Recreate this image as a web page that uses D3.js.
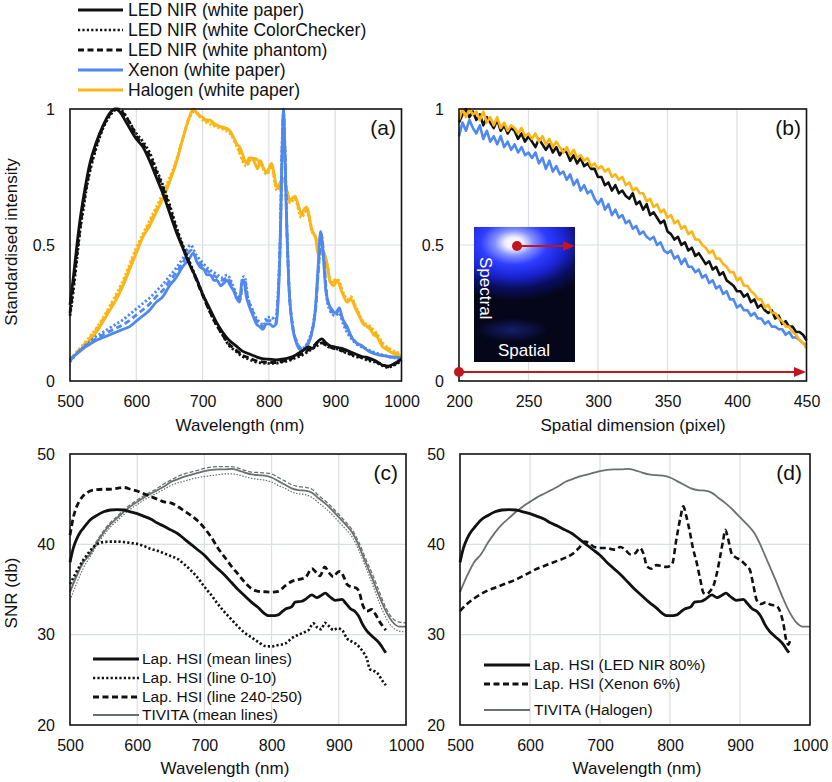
<!DOCTYPE html>
<html><head><meta charset="utf-8">
<script src="https://cdn.jsdelivr.net/npm/d3@7"></script>
<style>body{margin:0;background:#fff}svg{display:block}</style>
</head><body><svg id="chart" width="832" height="782"></svg>
<script>
// ---------------- DATA ----------------
// Panel (a): standardised intensity vs wavelength [nm, value]
const ledPaper = [[500,0.28],[505,0.38],[510,0.49],[515,0.59],[520,0.67],[525,0.74],[530,0.8],[540,0.88],[550,0.94],[560,0.985],[568,1.0],[575,0.99],[585,0.95],[600,0.89],[610,0.86],[620,0.81],[630,0.75],[640,0.69],[650,0.62],[660,0.55],[670,0.49],[680,0.43],[690,0.38],[700,0.32],[710,0.27],[720,0.22],[730,0.18],[740,0.15],[750,0.13],[760,0.11],[770,0.1],[780,0.09],[790,0.082],[800,0.08],[810,0.078],[820,0.08],[830,0.085],[840,0.095],[850,0.11],[860,0.125],[866,0.12],[872,0.14],[880,0.155],[886,0.14],[892,0.13],[900,0.125],[910,0.12],[920,0.11],[930,0.1],[940,0.09],[950,0.085],[960,0.075],[970,0.06],[980,0.055],[990,0.065],[1000,0.08]];
const ledChecker = [[500,0.24],[505,0.33],[510,0.44],[515,0.55],[520,0.63],[525,0.71],[530,0.77],[540,0.86],[550,0.93],[560,0.975],[572,1.0],[580,0.99],[590,0.95],[600,0.91],[610,0.88],[620,0.84],[630,0.78],[640,0.72],[650,0.65],[660,0.57],[670,0.5],[680,0.44],[690,0.38],[700,0.32],[710,0.26],[720,0.21],[730,0.17],[740,0.13],[750,0.11],[760,0.09],[770,0.08],[780,0.07],[790,0.066],[800,0.065],[810,0.065],[820,0.07],[830,0.075],[840,0.085],[850,0.095],[860,0.11],[870,0.125],[880,0.14],[890,0.125],[900,0.12],[910,0.11],[920,0.1],[930,0.09],[940,0.085],[950,0.075],[960,0.07],[970,0.058],[980,0.05],[990,0.06],[1000,0.075]];
const ledPhantom = [[500,0.25],[505,0.35],[510,0.46],[515,0.56],[520,0.65],[525,0.72],[530,0.78],[540,0.87],[550,0.935],[560,0.98],[570,1.0],[580,0.985],[590,0.95],[600,0.9],[610,0.87],[620,0.83],[630,0.77],[640,0.71],[650,0.64],[660,0.56],[670,0.495],[680,0.435],[690,0.375],[700,0.315],[710,0.26],[720,0.21],[730,0.17],[740,0.135],[750,0.115],[760,0.095],[770,0.085],[780,0.075],[790,0.07],[800,0.068],[810,0.068],[820,0.072],[830,0.078],[840,0.09],[850,0.1],[860,0.115],[868,0.13],[876,0.145],[884,0.135],[892,0.125],[900,0.118],[910,0.112],[920,0.102],[930,0.094],[940,0.086],[950,0.08],[960,0.072],[970,0.062],[980,0.052],[990,0.062],[1000,0.078]];
const xenonPaper = [[500,0.08],[510,0.1],[520,0.12],[530,0.135],[540,0.15],[550,0.16],[560,0.17],[570,0.18],[580,0.19],[590,0.2],[600,0.22],[610,0.24],[620,0.26],[630,0.29],[640,0.31],[650,0.35],[660,0.38],[670,0.42],[680,0.45],[686,0.47],[691,0.44],[696,0.42],[702,0.41],[707,0.39],[712,0.39],[717,0.37],[722,0.37],[727,0.35],[732,0.36],[737,0.37],[742,0.35],[747,0.33],[752,0.3],[756,0.29],[759,0.36],[762,0.37],[766,0.31],[771,0.27],[776,0.24],[781,0.21],[786,0.2],[791,0.19],[796,0.21],[801,0.21],[806,0.2],[811,0.21],[814,0.3],[817,0.5],[820,0.85],[822,1.0],[824,0.86],[827,0.56],[830,0.36],[835,0.21],[840,0.15],[845,0.12],[850,0.11],[855,0.12],[860,0.14],[865,0.18],[870,0.26],[874,0.41],[878,0.55],[882,0.46],[886,0.33],[891,0.28],[896,0.26],[901,0.25],[906,0.27],[911,0.23],[918,0.2],[925,0.16],[932,0.14],[940,0.13],[950,0.11],[960,0.1],[970,0.095],[980,0.09],[990,0.088],[1000,0.085]];
const xenonChecker = [[500,0.07],[510,0.1],[520,0.125],[530,0.145],[540,0.165],[550,0.18],[560,0.195],[570,0.21],[580,0.225],[590,0.245],[600,0.265],[610,0.285],[620,0.305],[630,0.33],[640,0.355],[650,0.385],[660,0.415],[670,0.45],[682,0.5],[690,0.465],[700,0.435],[710,0.41],[720,0.395],[730,0.38],[737,0.39],[745,0.355],[752,0.315],[757,0.31],[760,0.38],[763,0.385],[768,0.31],[774,0.27],[780,0.235],[787,0.215],[792,0.205],[797,0.235],[803,0.235],[810,0.225],[814,0.33],[817,0.53],[820,0.88],[822,0.99],[824,0.87],[827,0.58],[830,0.37],[836,0.2],[842,0.14],[850,0.12],[860,0.15],[866,0.2],[871,0.29],[875,0.43],[879,0.53],[883,0.44],[887,0.31],[892,0.26],[900,0.24],[906,0.25],[912,0.21],[920,0.17],[930,0.14],[945,0.12],[960,0.105],[980,0.09],[1000,0.08]];
const xenonPhantom = [[500,0.075],[510,0.1],[520,0.122],[530,0.14],[540,0.157],[550,0.17],[560,0.183],[570,0.195],[580,0.207],[590,0.223],[600,0.243],[610,0.262],[620,0.283],[630,0.31],[640,0.333],[650,0.367],[660,0.398],[670,0.435],[683,0.48],[690,0.452],[700,0.422],[710,0.4],[720,0.383],[730,0.37],[737,0.38],[745,0.345],[752,0.31],[757,0.3],[760,0.37],[763,0.375],[768,0.305],[774,0.265],[780,0.228],[787,0.208],[792,0.198],[797,0.222],[803,0.222],[810,0.215],[814,0.32],[817,0.51],[820,0.86],[822,0.99],[824,0.86],[827,0.57],[830,0.36],[836,0.2],[842,0.145],[850,0.118],[860,0.145],[866,0.19],[871,0.28],[875,0.42],[879,0.54],[883,0.45],[887,0.32],[892,0.27],[900,0.245],[906,0.26],[912,0.22],[920,0.18],[930,0.145],[945,0.12],[960,0.1],[980,0.09],[1000,0.082]];
const halogenPaper = [[500,0.08],[510,0.1],[520,0.12],[530,0.15],[540,0.18],[550,0.22],[560,0.26],[570,0.3],[580,0.35],[590,0.41],[600,0.47],[610,0.53],[620,0.57],[630,0.62],[640,0.67],[650,0.73],[660,0.8],[670,0.89],[680,0.97],[686,1.0],[690,0.99],[695,0.975],[700,0.97],[705,0.96],[710,0.96],[716,0.95],[722,0.94],[728,0.935],[735,0.93],[741,0.92],[748,0.89],[752,0.87],[756,0.86],[761,0.83],[766,0.8],[770,0.82],[774,0.82],[779,0.8],[783,0.78],[787,0.81],[792,0.78],[797,0.77],[804,0.8],[808,0.76],[812,0.71],[817,0.73],[822,0.745],[827,0.7],[832,0.665],[839,0.68],[844,0.65],[849,0.615],[853,0.63],[857,0.64],[861,0.6],[865,0.555],[870,0.53],[875,0.46],[880,0.48],[885,0.46],[889,0.41],[893,0.36],[898,0.35],[903,0.37],[908,0.34],[913,0.31],[918,0.29],[924,0.3],[930,0.27],[936,0.24],[942,0.21],[948,0.2],[953,0.19],[958,0.17],[964,0.16],[970,0.13],[978,0.115],[988,0.1],[1000,0.09]];
const halogenChecker = [[500,0.08],[520,0.135],[540,0.195],[560,0.275],[580,0.37],[600,0.49],[620,0.59],[640,0.69],[660,0.81],[670,0.89],[680,0.965],[687,0.99],[700,0.96],[720,0.935],[741,0.91],[752,0.86],[766,0.79],[774,0.815],[787,0.8],[797,0.76],[804,0.79],[812,0.7],[822,0.735],[832,0.655],[839,0.67],[849,0.6],[857,0.63],[865,0.55],[872,0.52],[876,0.46],[880,0.475],[888,0.43],[893,0.365],[903,0.375],[913,0.32],[918,0.3],[924,0.31],[930,0.28],[942,0.22],[953,0.2],[964,0.17],[970,0.145],[985,0.115],[1000,0.1]];
const halogenPhantom = [[500,0.08],[520,0.13],[540,0.19],[560,0.27],[580,0.36],[600,0.48],[620,0.58],[640,0.68],[660,0.805],[670,0.89],[680,0.97],[686,0.995],[700,0.965],[720,0.94],[741,0.915],[752,0.865],[766,0.795],[774,0.82],[787,0.805],[797,0.765],[804,0.795],[812,0.705],[822,0.74],[832,0.66],[839,0.675],[849,0.61],[857,0.635],[865,0.55],[872,0.52],[876,0.455],[880,0.478],[888,0.425],[893,0.36],[903,0.37],[913,0.315],[918,0.295],[924,0.305],[930,0.275],[942,0.215],[953,0.195],[964,0.165],[970,0.14],[985,0.112],[1000,0.095]];

// Panel (b): spatial profiles, pixel 200..450 every 2.5 px
const spatialPx = d3.range(0, 101).map(i => 200 + i * 2.5);
const spatialLed = [0.95,0.98,1.0,0.97,0.99,0.96,0.98,0.94,0.97,0.95,0.93,0.96,0.92,0.94,0.91,0.93,0.92,0.89,0.91,0.88,0.9,
  0.88,0.86,0.89,0.87,0.85,0.87,0.84,0.86,0.83,0.85,0.84,0.81,0.83,0.8,0.82,0.79,0.8,0.78,0.78,0.75,
  0.75,0.72,0.73,0.7,0.72,0.69,0.7,0.68,0.67,0.69,0.65,0.66,0.63,0.65,0.61,0.62,0.6,0.58,0.59,0.55,
  0.54,0.52,0.53,0.5,0.51,0.48,0.49,0.46,0.47,0.45,0.43,0.44,0.41,0.42,0.39,0.4,0.37,0.36,0.35,0.33,
  0.33,0.31,0.32,0.29,0.3,0.27,0.28,0.26,0.25,0.26,0.23,0.24,0.21,0.22,0.2,0.2,0.18,0.18,0.17,0.15];
const spatialHalogen = [0.96,1.0,0.97,1.0,0.98,0.99,0.96,0.99,0.95,0.97,0.94,0.97,0.93,0.95,0.92,0.94,0.93,0.91,0.93,0.9,0.91,
  0.89,0.91,0.88,0.9,0.87,0.89,0.86,0.88,0.86,0.84,0.86,0.83,0.85,0.82,0.83,0.81,0.82,0.79,0.8,0.78,
  0.79,0.77,0.78,0.75,0.76,0.74,0.75,0.72,0.73,0.7,0.71,0.69,0.69,0.66,0.67,0.64,0.65,0.62,0.63,0.6,
  0.61,0.58,0.59,0.56,0.57,0.54,0.55,0.52,0.52,0.5,0.49,0.47,0.48,0.45,0.45,0.43,0.42,0.4,0.4,0.37,
  0.38,0.35,0.35,0.33,0.32,0.3,0.3,0.27,0.28,0.25,0.25,0.23,0.22,0.2,0.2,0.18,0.17,0.15,0.14,0.12];
const spatialXenon = [0.9,0.95,0.92,0.96,0.93,0.91,0.94,0.89,0.92,0.88,0.9,0.87,0.9,0.86,0.88,0.85,0.87,0.84,0.86,0.83,0.84,
  0.82,0.84,0.8,0.82,0.78,0.81,0.77,0.79,0.76,0.77,0.74,0.76,0.72,0.74,0.7,0.72,0.69,0.7,0.67,0.65,
  0.67,0.63,0.65,0.61,0.63,0.6,0.61,0.58,0.59,0.56,0.57,0.54,0.55,0.53,0.52,0.53,0.5,0.51,0.48,0.47,
  0.48,0.45,0.46,0.43,0.45,0.42,0.42,0.4,0.41,0.38,0.39,0.36,0.37,0.34,0.35,0.32,0.33,0.3,0.3,0.27,
  0.28,0.26,0.26,0.24,0.25,0.23,0.23,0.21,0.22,0.2,0.2,0.19,0.19,0.17,0.18,0.16,0.16,0.15,0.14,0.13];

// Panel (c)/(d): SNR (db) vs wavelength
const snrLapMean = [[500,38],[505,39.6],[510,40.6],[515,41.3],[520,41.8],[530,42.7],[540,43.2],[550,43.6],[560,43.8],[570,43.85],[580,43.8],[590,43.6],[600,43.4],[610,43.1],[620,42.8],[630,42.35],[640,42.0],[650,41.6],[660,41.2],[670,40.6],[680,40.0],[690,39.4],[700,38.8],[710,38.0],[720,37.3],[730,36.6],[740,35.8],[750,35.0],[760,34.3],[770,33.6],[780,33.0],[790,32.3],[795,32.1],[800,32.1],[810,32.2],[815,32.5],[820,32.8],[830,33.1],[835,33.6],[845,33.7],[850,33.9],[860,34.4],[867,34.1],[873,34.3],[880,34.6],[885,34.3],[890,34.0],[895,33.8],[905,33.9],[910,33.5],[917,32.9],[925,32.5],[930,32.0],[935,31.2],[942,30.4],[950,29.8],[956,29.4],[962,28.9],[968,28.2],[970,28.0]];
const snrLapLine0 = [[500,35.6],[505,36.3],[510,37.0],[520,38.3],[525,38.8],[530,39.3],[540,40.0],[550,40.25],[560,40.3],[570,40.3],[580,40.25],[590,40.15],[600,40.05],[610,39.8],[620,39.5],[630,39.3],[640,39.0],[650,38.7],[660,38.4],[670,37.8],[680,37.1],[690,36.3],[700,35.3],[710,34.4],[720,33.4],[730,32.5],[740,31.7],[750,30.9],[760,30.2],[770,29.7],[780,29.2],[790,28.75],[800,28.7],[810,28.85],[820,29.0],[830,29.6],[840,30.0],[850,30.3],[855,30.5],[862,31.25],[868,30.8],[874,30.6],[879,31.3],[886,30.9],[892,30.5],[898,30.7],[905,30.5],[912,29.6],[920,29.2],[927,28.9],[935,28.2],[942,27.3],[946,26.2],[952,26.0],[958,25.7],[964,25.0],[970,24.4]];
const snrLapLine240 = [[500,41],[505,43],[510,44.2],[515,44.9],[520,45.4],[525,45.7],[530,45.9],[540,46.05],[550,46.1],[560,46.1],[570,46.2],[580,46.3],[590,46.1],[600,45.9],[610,45.6],[620,45.3],[630,45.0],[640,44.7],[650,44.6],[660,44.2],[670,43.7],[680,43.2],[690,42.6],[700,41.8],[710,40.8],[720,39.6],[730,38.6],[740,37.6],[750,36.7],[760,35.8],[770,35.1],[780,34.8],[790,34.75],[800,34.7],[810,34.8],[820,35.4],[830,35.9],[840,36.1],[850,36.3],[860,37.3],[865,37.0],[872,36.5],[879,37.5],[885,36.9],[892,36.4],[898,36.9],[902,37.0],[908,36.3],[912,35.6],[918,35.3],[925,35.2],[930,34.8],[936,33.2],[942,32.6],[949,32.8],[955,32.2],[961,31.4],[966,30.9],[970,30.5]];
const snrTivita = [[500,34.7],[510,36.5],[520,38.0],[530,38.9],[540,40.2],[550,41.3],[560,42.2],[570,42.9],[580,43.6],[590,44.2],[600,44.7],[610,45.2],[620,45.6],[630,46.0],[640,46.4],[650,46.9],[660,47.2],[670,47.5],[680,47.7],[690,47.9],[700,48.1],[710,48.25],[720,48.3],[730,48.3],[740,48.35],[750,48.2],[760,47.95],[770,47.75],[780,47.65],[790,47.6],[800,47.4],[810,47.0],[820,46.6],[830,46.2],[840,46.0],[850,45.95],[860,45.7],[870,45.1],[880,44.5],[890,43.8],[900,43.0],[910,42.2],[920,41.3],[930,39.8],[935,38.9],[940,38.0],[950,36.2],[960,34.3],[970,32.6],[980,31.4],[990,30.9],[1000,30.9]];
const snrTivitaLine0 = [[500,33.8],[510,35.7],[520,37.4],[530,38.6],[540,39.9],[550,41.0],[560,41.9],[570,42.6],[580,43.3],[590,43.9],[600,44.4],[610,44.9],[620,45.3],[630,45.7],[640,46.1],[650,46.5],[660,46.8],[670,47.0],[680,47.2],[690,47.4],[700,47.5],[710,47.6],[720,47.7],[730,47.8],[740,47.8],[750,47.7],[760,47.5],[770,47.3],[780,47.2],[790,47.1],[800,46.9],[810,46.5],[820,46.2],[830,45.8],[840,45.6],[850,45.5],[860,45.2],[870,44.6],[880,44.0],[890,43.3],[900,42.5],[910,41.7],[920,40.8],[930,39.3],[940,37.5],[950,35.6],[960,33.6],[970,31.9],[980,30.8],[990,30.4],[1000,30.3]];
const snrTivitaLine240 = [[500,34.9],[510,36.7],[520,38.2],[530,39.1],[540,40.4],[550,41.5],[560,42.4],[570,43.1],[580,43.8],[590,44.4],[600,44.9],[610,45.4],[620,45.8],[630,46.2],[640,46.7],[650,47.1],[660,47.5],[670,47.8],[680,48.0],[690,48.2],[700,48.4],[710,48.55],[720,48.6],[730,48.6],[740,48.6],[750,48.45],[760,48.2],[770,48.0],[780,47.95],[790,47.9],[800,47.8],[810,47.4],[820,47.0],[830,46.6],[840,46.4],[850,46.3],[860,46.1],[870,45.4],[880,44.8],[890,44.1],[900,43.3],[910,42.5],[920,41.6],[930,40.2],[940,38.4],[950,36.7],[960,34.8],[970,33.0],[980,31.8],[990,31.4],[1000,31.3]];
const snrXenon = [[500,32.6],[510,33.4],[520,34.0],[530,34.5],[540,34.9],[550,35.2],[560,35.5],[570,35.8],[580,36.1],[590,36.5],[600,36.9],[610,37.3],[620,37.6],[630,37.9],[640,38.2],[650,38.5],[660,38.9],[670,39.6],[678,40.3],[685,40.1],[692,39.7],[700,39.6],[708,39.6],[715,39.5],[722,39.4],[729,39.7],[736,39.4],[743,38.9],[750,39.0],[757,39.6],[762,39.0],[767,37.6],[773,37.3],[781,37.7],[788,37.6],[795,37.5],[803,37.8],[809,40.5],[815,43.0],[819,44.2],[823,43.2],[828,41.5],[833,39.5],[838,38.0],[843,36.2],[848,34.6],[852,34.5],[857,34.8],[862,35.4],[867,36.8],[872,38.8],[876,40.5],[879,41.6],[883,40.6],[888,39.0],[893,38.6],[900,38.3],[907,37.8],[914,37.2],[919,35.5],[924,33.8],[930,33.4],[937,33.6],[944,33.3],[952,33.2],[958,32.4],[962,31.2],[966,29.4],[969,28.9],[972,29.5]];

// Ticks and labels
const wlTicks = [500,600,700,800,900,1000];
const spatialTicks = [200,250,300,350,400,450];
const intensityTicks = [0,0.5,1];
const snrTicks = [20,30,40,50];
const legendA = ["LED NIR (white paper)","LED NIR (white ColorChecker)","LED NIR (white phantom)","Xenon (white paper)","Halogen (white paper)"];
const legendC = ["Lap. HSI (mean lines)","Lap. HSI (line 0-10)","Lap. HSI (line 240-250)","TIVITA (mean lines)"];
const legendD = ["Lap. HSI (LED NIR 80%)","Lap. HSI (Xenon 6%)","TIVITA (Halogen)"];

// ---------------- DRAWING ----------------
const FONT = "'Liberation Sans', Arial, Helvetica, sans-serif";
const BLUE = "#4f88ee", ORANGE = "#fdb515", GRAY = "#6b6f70", BLACK = "#111", RED = "#c3161c";
const svg = d3.select("#chart");

function frame(x, y, xTicks, yTicks, yGrid, yFmt, xTitle, xTitleX, xTitleY, tag, tagX, tagY) {
  const [x0, x1] = x.range(), [y0, y1] = y.range();
  const g = svg.append("g");
  g.selectAll(".vg").data(xTicks.slice(1, -1)).join("line")
    .attr("x1", d => x(d)).attr("x2", d => x(d)).attr("y1", y0).attr("y2", y1)
    .attr("stroke", "#d9dfe2").attr("stroke-width", 1.2);
  g.selectAll(".hg").data(yGrid).join("line")
    .attr("x1", x0).attr("x2", x1).attr("y1", d => y(d)).attr("y2", d => y(d))
    .attr("stroke", "#d9dfe2").attr("stroke-width", 1.2);
  const ax = g.append("g").attr("transform", `translate(0,${y0})`)
    .call(d3.axisBottom(x).tickValues(xTicks).tickSize(0).tickPadding(15).tickFormat(d3.format("d")));
  ax.select(".domain").remove();
  ax.attr("font-size", 16).attr("font-family", FONT).selectAll("text").attr("fill", BLACK);
  const ay = g.append("g").attr("transform", `translate(${x0},0)`)
    .call(d3.axisLeft(y).tickValues(yTicks).tickSize(0).tickPadding(15).tickFormat(yFmt));
  ay.select(".domain").remove();
  ay.attr("font-size", 16).attr("font-family", FONT).selectAll("text").attr("fill", BLACK);
  svg.append("text").attr("x", xTitleX).attr("y", xTitleY).attr("text-anchor", "middle")
    .attr("font-family", FONT).attr("font-size", 17).attr("fill", BLACK).text(xTitle);
  svg.append("text").attr("x", tagX).attr("y", tagY).attr("text-anchor", "end")
    .attr("font-family", FONT).attr("font-size", 21).attr("fill", BLACK).text(tag);
  return g;
}
function border(x, y) {
  const [x0, x1] = x.range(), [y0, y1] = y.range();
  svg.append("rect").attr("x", x0).attr("y", y1).attr("width", x1 - x0).attr("height", y0 - y1)
    .attr("fill", "none").attr("stroke", BLACK).attr("stroke-width", 1.6);
}
function series(x, y, data, color, width, dash, curve) {
  const line = d3.line().x(d => x(d[0])).y(d => y(d[1])).curve(curve || d3.curveMonotoneX);
  svg.append("path").datum(data).attr("d", line).attr("fill", "none")
    .attr("stroke", color).attr("stroke-width", width)
    .attr("stroke-dasharray", dash || null).attr("stroke-linejoin", "round");
}
function ylabel(text, cx, cy) {
  svg.append("text").attr("transform", `translate(${cx},${cy}) rotate(-90)`)
    .attr("text-anchor", "middle").attr("font-family", FONT).attr("font-size", 17)
    .attr("fill", BLACK).text(text);
}
function legend(items, x0, x1, tx, ys, size) {
  items.forEach((it, i) => {
    svg.append("line").attr("x1", x0).attr("x2", x1).attr("y1", ys[i]).attr("y2", ys[i])
      .attr("stroke", it.color).attr("stroke-width", it.width).attr("stroke-dasharray", it.dash || null);
    svg.append("text").attr("x", tx).attr("y", ys[i]).attr("dy", "0.35em")
      .attr("font-family", FONT).attr("font-size", size).attr("fill", BLACK).text(it.label);
  });
}

const DOT = "2.2,2.2", DASH = "6,3.5";

// ---- Panel (a)
const xA = d3.scaleLinear([500, 1000], [70, 401.5]);
const yA = d3.scaleLinear([0, 1], [381, 109]);
frame(xA, yA, wlTicks, intensityTicks, [0.5], d3.format("~g"), "Wavelength (nm)", 240, 431, "(a)", 396, 135);
series(xA, yA, halogenChecker, ORANGE, 2.8, DOT);
series(xA, yA, halogenPhantom, ORANGE, 2.8, DASH);
series(xA, yA, halogenPaper, ORANGE, 2.8);
series(xA, yA, xenonChecker, BLUE, 2.8, DOT);
series(xA, yA, xenonPhantom, BLUE, 2.8, DASH);
series(xA, yA, xenonPaper, BLUE, 2.8);
series(xA, yA, ledChecker, BLACK, 2.8, DOT);
series(xA, yA, ledPhantom, BLACK, 2.8, DASH);
series(xA, yA, ledPaper, BLACK, 2.8);
border(xA, yA);
ylabel("Standardised intensity", 17, 242);
legend([
  {label: legendA[0], color: BLACK, width: 3},
  {label: legendA[1], color: BLACK, width: 2.6, dash: DOT},
  {label: legendA[2], color: BLACK, width: 3, dash: DASH},
  {label: legendA[3], color: BLUE, width: 3},
  {label: legendA[4], color: ORANGE, width: 3}
], 78, 123, 128, [10, 30, 50, 70, 90], 17.5);

// ---- Panel (b)
const xB = d3.scaleLinear([200, 450], [459, 806.5]);
const yB = d3.scaleLinear([0, 1], [381, 109]);
frame(xB, yB, spatialTicks, intensityTicks, [0.5], d3.format("~g"), "Spatial dimension (pixel)", 633, 431, "(b)", 801, 135);
const zipB = arr => spatialPx.map((p, i) => [p, arr[i]]);
series(xB, yB, zipB(spatialXenon), BLUE, 2.6, null, d3.curveLinear);
series(xB, yB, zipB(spatialLed), BLACK, 2.6, null, d3.curveLinear);
series(xB, yB, zipB(spatialHalogen), ORANGE, 2.6, null, d3.curveLinear);
border(xB, yB);
// inset image
const defs = svg.append("defs");
const glow = defs.append("radialGradient").attr("id", "glow").attr("gradientUnits", "userSpaceOnUse")
  .attr("cx", 0).attr("cy", 0).attr("r", 1).attr("gradientTransform", "translate(514,243) scale(88,58)");
[[0, "#ffffff"], [0.1, "#eef0ff"], [0.22, "#8390ff"], [0.38, "#2f3dff"], [0.58, "#1a24d2"], [0.78, "#0a0e5e"], [1, "#05061a"]]
  .forEach(s => glow.append("stop").attr("offset", s[0]).attr("stop-color", s[1]));
const faint = defs.append("radialGradient").attr("id", "faint").attr("gradientUnits", "userSpaceOnUse")
  .attr("cx", 0).attr("cy", 0).attr("r", 1).attr("gradientTransform", "translate(512,330) scale(36,12)");
faint.append("stop").attr("offset", 0).attr("stop-color", "#2636c0").attr("stop-opacity", 0.5);
faint.append("stop").attr("offset", 1).attr("stop-color", "#2636c0").attr("stop-opacity", 0);
svg.append("rect").attr("x", 474).attr("y", 227).attr("width", 101).attr("height", 135).attr("fill", "#06070f");
svg.append("rect").attr("x", 474).attr("y", 227).attr("width", 101).attr("height", 135).attr("fill", "url(#glow)");
svg.append("rect").attr("x", 474).attr("y", 300).attr("width", 101).attr("height", 62).attr("fill", "url(#faint)");
svg.append("text").attr("transform", "translate(480,257) rotate(90)").attr("font-family", FONT)
  .attr("font-size", 17).attr("fill", "#fff").text("Spectral");
svg.append("text").attr("x", 524).attr("y", 356).attr("text-anchor", "middle").attr("font-family", FONT)
  .attr("font-size", 17).attr("fill", "#fff").text("Spatial");
function arrow(xs, xe, yy) {
  svg.append("line").attr("x1", xs).attr("x2", xe - 10).attr("y1", yy).attr("y2", yy)
    .attr("stroke", RED).attr("stroke-width", 2);
  svg.append("path").attr("d", `M${xe},${yy} L${xe - 12},${yy - 5} L${xe - 12},${yy + 5} Z`).attr("fill", RED);
  svg.append("circle").attr("cx", xs).attr("cy", yy).attr("r", 5).attr("fill", RED);
}
arrow(517, 575, 246);
arrow(459, 806, 372);

// ---- Panel (c)
const xC = d3.scaleLinear([500, 1000], [70, 406]);
const yC = d3.scaleLinear([20, 50], [725, 454]);
frame(xC, yC, wlTicks, snrTicks, [30, 40], d3.format("d"), "Wavelength (nm)", 225, 774, "(c)", 398, 480);
series(xC, yC, snrTivitaLine0, GRAY, 1.2, "1.5,1.5");
series(xC, yC, snrTivitaLine240, GRAY, 1.3, "4,2");
series(xC, yC, snrTivita, GRAY, 1.8);
series(xC, yC, snrLapLine0, BLACK, 2.6, DOT);
series(xC, yC, snrLapLine240, BLACK, 2.8, DASH);
series(xC, yC, snrLapMean, BLACK, 2.8);
border(xC, yC);
ylabel("SNR (db)", 17, 593);
legend([
  {label: legendC[0], color: BLACK, width: 3},
  {label: legendC[1], color: BLACK, width: 2.6, dash: DOT},
  {label: legendC[2], color: BLACK, width: 3, dash: DASH},
  {label: legendC[3], color: GRAY, width: 2}
], 93, 139, 142, [659, 678, 697, 715], 15.5);

// ---- Panel (d)
const xD = d3.scaleLinear([500, 1000], [460, 810]);
const yD = d3.scaleLinear([20, 50], [725, 454]);
frame(xD, yD, wlTicks, snrTicks, [30, 40], d3.format("d"), "Wavelength (nm)", 637, 774, "(d)", 802, 480);
series(xD, yD, snrTivita, GRAY, 1.8);
series(xD, yD, snrXenon, BLACK, 2.6, DASH);
series(xD, yD, snrLapMean, BLACK, 2.8);
border(xD, yD);
legend([
  {label: legendD[0], color: BLACK, width: 3},
  {label: legendD[1], color: BLACK, width: 3, dash: DASH},
  {label: legendD[2], color: GRAY, width: 2}
], 484, 530, 534, [665, 684, 710], 15.5);
</script></body></html>
